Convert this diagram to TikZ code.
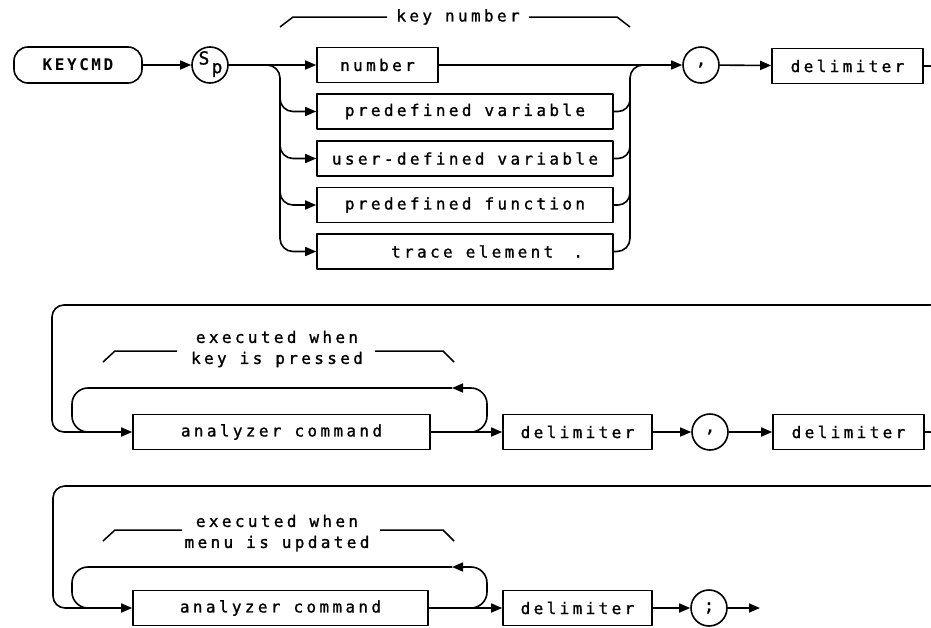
\documentclass[tikz,border=0pt]{standalone}
\usepackage{fontspec}
\newfontfamily\plotfont[LetterSpace=21,FakeBold=1.2]{DejaVu Sans Mono}
\newfontfamily\plotbold[LetterSpace=16]{DejaVu Sans Mono Bold}
\usetikzlibrary{arrows.meta}
\begin{document}
\begin{tikzpicture}[x=1pt,y=-1pt,line width=1.6pt,line join=round,
  arr/.style={-{Triangle[length=11pt,width=9pt]}},
  txt/.style={font=\plotfont\fontsize{16}{21}\selectfont, inner sep=0pt},
  box/.style={draw, rectangle, minimum height=35pt, inner sep=0pt, font=\plotfont\fontsize{16}{16}\selectfont},
  circ/.style={draw, circle, minimum size=36pt, inner sep=0pt, font=\plotfont\fontsize{17}{17}\selectfont},
  pill/.style={draw, rectangle, rounded corners=14pt, minimum height=36pt, minimum width=128pt, inner sep=0pt, font=\plotbold\fontsize{16}{16}\selectfont},
  brace/.style={line width=1.5pt}
]
\useasboundingbox (0,0) rectangle (931,627);

% ---------- row 1 ----------
\node[pill] (kc) at (78,65) {KEYCMD};
\node[circ] (sp) at (210,65) {};
\node[txt, font=\plotfont\fontsize{18}{18}\selectfont] (sps) at (204,58) {S};
\node[txt, font=\plotfont\fontsize{18}{18}\selectfont] (spp) at (217,70) {p};

\node[box, minimum width=121pt] (num) at (377.5,65) {number};
\node[box, minimum width=296pt] (pv) at (465,111.5) {predefined variable};
\node[box, minimum width=296pt] (uv) at (465,158.5) {user-defined variable};
\node[box, minimum width=296pt] (pf) at (465,205) {predefined function};
\node[box, minimum width=296pt] (te) at (465,251.5) {\hspace*{44pt}trace element\hspace{20pt}.};

\node[txt] (kn) at (458,17) {key number};
\draw[brace] (280,27) -- (293,17) -- (387,17);
\draw[brace] (529,17) -- (617,17) -- (630,27);

\draw[arr] (kc) -- (sp);
\draw[arr] (sp) -- (num);
\draw[arr, rounded corners=13pt] (sp.east) -| (280,150) |- (te.west);
\draw[arr, rounded corners=13pt] (280,85) |- (pv.west);
\draw[arr, rounded corners=13pt] (280,130) |- (uv.west);
\draw[arr, rounded corners=13pt] (280,175) |- (pf.west);

\draw[rounded corners=13pt] (te.east) -| (630,65) -- (660,65);
\draw[rounded corners=12pt] (pv.east) -| (630,90);
\draw[rounded corners=12pt] (uv.east) -| (630,135);
\draw[rounded corners=12pt] (pf.east) -| (630,180);

\node[circ] (c1) at (701,65) {,};
\node[box, minimum width=151pt] (dl1) at (847.5,66) {delimiter};
\draw[arr] (num) -- (c1);
\draw[arr] (c1) -- (dl1);

% ---------- row 2 ----------
\node[box, minimum width=297pt] (an1) at (281.5,432) {analyzer command};
\node[box, minimum width=149pt] (d2) at (577.5,432) {delimiter};
\node[circ] (c2) at (710,432) {,};
\node[box, minimum width=151pt] (d3) at (848.5,432) {delimiter};

\node[txt, align=center] (kp) at (277,349) {executed when\\key is pressed};
\draw[brace] (103,362) -- (115,351) -- (177,351);
\draw[brace] (375,351) -- (443,351) -- (454,362);

\coordinate (l1a) at (452,388);
\draw[arr, rounded corners=16pt] (455,432) -- (487,432) -- (487,388) -- (l1a);
\draw[rounded corners=16pt] (l1a) -- (72,388) -- (72,432) -- (110,432);

\draw[arr] (an1) -- (d2);
\draw[arr] (d2) -- (c2);
\draw[arr] (c2) -- (d3);

% ---------- row 3 ----------
\node[box, minimum width=295pt] (an2) at (280.5,608) {analyzer command};
\node[box, minimum width=149pt] (d4) at (577.5,608) {delimiter};
\node[circ] (c3) at (709,608) {;};
\coordinate (out) at (760,608);

\node[txt, align=center] (mu) at (277,533) {executed when\\menu is updated};
\draw[brace] (103,541) -- (115,530) -- (182,530);
\draw[brace] (380,530) -- (443,530) -- (454,541);

\coordinate (l2a) at (452,567);
\draw[arr, rounded corners=16pt] (455,608) -- (487,608) -- (487,567) -- (l2a);
\draw[rounded corners=16pt] (l2a) -- (72,567) -- (72,608) -- (110,608);

\draw[arr] (an2) -- (d4);
\draw[arr] (d4) -- (c3);
\draw[arr] (c3) -- (out);

% ---------- wrap-around returns ----------
\begin{scope}
\clip (0,0) rectangle (931,627);
\draw[arr, rounded corners=12pt] (dl1.east) -- (942,66) -- (942,305) -- (52,305) -- (52,432) -- (an1.west);
\draw[arr, rounded corners=12pt] (d3.east) -- (942,432) -- (942,486) -- (53,486) -- (53,608) -- (an2.west);
\end{scope}
\end{tikzpicture}
\end{document}
